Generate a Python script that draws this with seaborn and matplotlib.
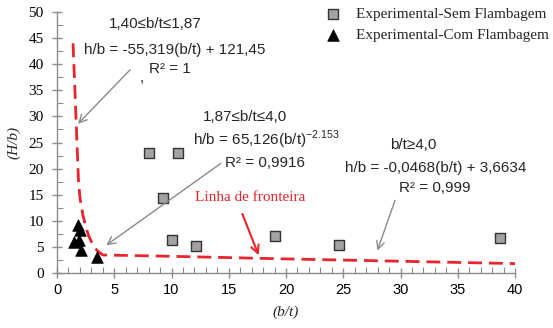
import matplotlib
matplotlib.use("Agg")
import matplotlib.pyplot as plt
import seaborn as sns
import pandas as pd
from matplotlib.ticker import MultipleLocator

# ---- data ----
sem_bt = [8.0, 10.6, 9.3, 10.0, 12.1, 19.0, 24.6, 38.7]
sem_hb = [23.0, 23.0, 14.4, 6.3, 5.2, 7.0, 5.4, 6.8]

com_bt = [1.8, 2.0, 1.5, 1.95, 2.1, 3.5]
com_hb = [9.2, 8.2, 6.0, 6.3, 4.5, 3.1]

fronteira_bt = [1.40, 1.50, 1.60, 1.70, 1.87, 2.0, 2.25, 2.5, 2.75, 3.0, 3.5, 4.0, 10, 20, 30, 40]
fronteira_hb = [44.0, 38.5, 33.0, 27.4, 18.0, 14.5, 11.2, 9.0, 7.2, 6.0, 4.3, 3.45, 3.2, 2.7, 2.25, 1.8]

x_ticks = [0, 5, 10, 15, 20, 25, 30, 35, 40]
y_ticks = [0, 5, 10, 15, 20, 25, 30, 35, 40, 45, 50]

sns.set_style("white")
plt.rcParams['font.family'] = ['Liberation Sans', 'DejaVu Sans']

fig = plt.figure(figsize=(5.53, 3.28), dpi=100)
ax = fig.add_axes([57/553, 1-273/328, (515-57)/553, (273-12)/328])

df_sem = pd.DataFrame({"bt": sem_bt, "hb": sem_hb})
df_com = pd.DataFrame({"bt": com_bt, "hb": com_hb})
df_f = pd.DataFrame({"bt": fronteira_bt, "hb": fronteira_hb})

sns.lineplot(data=df_f, x="bt", y="hb", ax=ax, color="#e8252d", lw=2.0,
             sort=False, estimator=None, dashes=False, legend=False)
ax.lines[-1].set_dashes([5, 2.5])

sns.scatterplot(data=df_sem, x="bt", y="hb", ax=ax, marker="s", s=50,
                color="#a3a3a3", edgecolor="#333333", linewidth=1.0,
                label="Experimental-Sem Flambagem", zorder=3)
sns.scatterplot(data=df_com, x="bt", y="hb", ax=ax, marker="^", s=70,
                color="black", edgecolor="black", linewidth=0.5,
                label="Experimental-Com Flambagem", zorder=3)

ax.set_xlim(0, 40)
ax.set_ylim(0, 50)
ax.set_xticks(x_ticks)
ax.set_yticks(y_ticks)
ax.xaxis.set_minor_locator(MultipleLocator(1))
ax.yaxis.set_minor_locator(MultipleLocator(2.5))
for s in ["top", "right"]:
    ax.spines[s].set_visible(False)
for s in ["left", "bottom"]:
    ax.spines[s].set_color("#8c8c8c")
    ax.spines[s].set_linewidth(1.0)
ax.tick_params(axis="both", which="major", direction="inout", length=7, width=1.0,
               color="#8c8c8c", labelcolor="black")
ax.tick_params(axis="both", which="minor", direction="in", length=4, width=0.8,
               color="#8c8c8c")
ax.tick_params(axis="x", which="both", bottom=True)
ax.tick_params(axis="y", which="both", left=True)
ax.tick_params(axis="x", labelsize=10.5, pad=4)
ax.tick_params(axis="y", labelsize=11, pad=6)
for lab in ax.get_yticklabels():
    lab.set_fontfamily("Liberation Serif")

ax.set_xlabel("(b/t)", fontfamily="Liberation Serif", fontstyle="italic", fontsize=11, labelpad=6)
ax.set_ylabel("(H/b)", fontfamily="Liberation Serif", fontstyle="italic", fontsize=11, labelpad=6)

leg = ax.legend(loc="upper right", bbox_to_anchor=(1.103, 1.07), frameon=False,
                prop={"family": "Liberation Serif", "size": 11},
                handletextpad=0.5, labelspacing=0.45, markerscale=1.0)

fs = 11
ax.text(8.6, 47.7, "1,40≤b/t≤1,87", ha="center", va="center", fontsize=fs)
ax.text(10.3, 42.7, "h/b = -55,319(b/t) + 121,45", ha="center", va="center", fontsize=fs)
ax.text(9.9, 39.0, "R² = 1", ha="center", va="center", fontsize=fs)
ax.text(7.4, 37.3, ",", ha="center", va="center", fontsize=fs)

ax.text(16.4, 29.9, "1,87≤b/t≤4,0", ha="center", va="center", fontsize=fs)
ax.text(18.3, 25.5, r"h/b = 65,126(b/t)$^{\mathregular{-2.153}}$", ha="center", va="center", fontsize=fs)
ax.text(18.2, 21.1, "R² = 0,9916", ha="center", va="center", fontsize=fs)

ax.text(31.1, 24.5, "b/t≥4,0", ha="center", va="center", fontsize=fs)
ax.text(33.1, 20.1, "h/b = -0,0468(b/t) + 3,6634", ha="center", va="center", fontsize=fs)
ax.text(33.0, 16.3, "R² = 0,999", ha="center", va="center", fontsize=fs)

ax.text(16.9, 14.4, "Linha de fronteira", ha="center", va="center", fontsize=11,
        color="#e8252d", fontfamily="Liberation Serif")

gray_arrow = dict(arrowstyle="->", color="#8a8a8a", lw=1.0, mutation_scale=14)
ax.annotate("", xy=(1.66, 28.2), xytext=(6.55, 39.3), arrowprops=gray_arrow)
ax.annotate("", xy=(4.1, 5.0), xytext=(14.5, 21.3), arrowprops=gray_arrow)
ax.annotate("", xy=(27.9, 3.8), xytext=(29.6, 14.4), arrowprops=gray_arrow)
ax.annotate("", xy=(17.7, 2.9), xytext=(16.1, 11.8),
            arrowprops=dict(arrowstyle="->", color="#e8252d", lw=1.5, mutation_scale=14))

fig.savefig("out.png", dpi=100)
